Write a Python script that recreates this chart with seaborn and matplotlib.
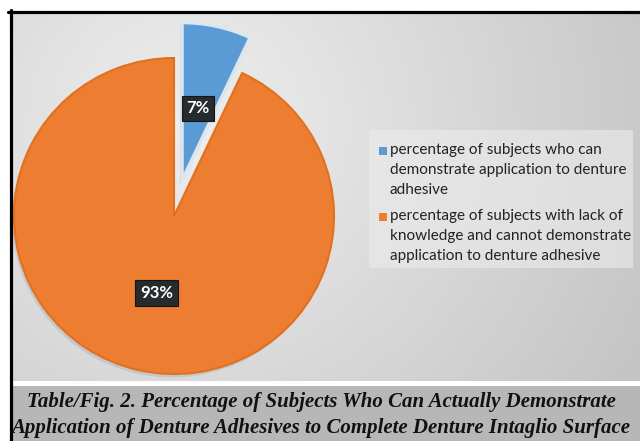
import numpy as np
import matplotlib
matplotlib.use("Agg")
import matplotlib.pyplot as plt
import seaborn as sns
from matplotlib.lines import Line2D
from matplotlib.patches import Rectangle
import matplotlib.patheffects as pe

# ---- data ----
categories = [
    "percentage of subjects who can\ndemonstrate application to denture\nadhesive",
    "percentage of subjects with lack of\nknowledge and cannot demonstrate\napplication to denture adhesive",
]
values = [7, 93]
explode = [0.23, 0.0]
caption_lines = [
    "Table/Fig. 2. Percentage of Subjects Who Can Actually Demonstrate",
    "Application of Denture Adhesives to Complete Denture Intaglio Surface",
]

sns.set_theme(style="white")
palette = sns.color_palette(["#5B9BD5", "#ED7D31"])

W, H = 640, 441
fig = plt.figure(figsize=(W / 100, H / 100), dpi=100)
fig.patch.set_facecolor("white")

def fx(px):
    return px / W

def fy(py):
    return 1 - py / H

# ---- gradient background of chart area ----
bg = fig.add_axes([fx(12), fy(381), fx(640) - fx(12), fy(13) - fy(381)])
bg.set_axis_off()
xx, yy = np.meshgrid(np.linspace(0, 1, 300), np.linspace(0, 1, 200))
d = np.sqrt(((xx - 0.28) * 1.0) ** 2 + ((yy - 0.3) * 0.6) ** 2)
v = 0.935 - 0.20 * d
v = np.clip(v, 0.77, 0.94)
img = np.dstack([v, v, v])
bg.imshow(img, aspect="auto", extent=[0, 1, 1, 0], interpolation="bilinear")
bg.set_xlim(0, 1)
bg.set_ylim(1, 0)

# ---- caption band ----
cap = fig.add_axes([fx(12), 0, 1 - fx(12), fy(386)])
cap.set_axis_off()
cap.add_patch(Rectangle((0, 0), 1, 1, transform=cap.transAxes, color="#b7b7b7"))
cap.set_xlim(0, 1)
cap.set_ylim(0, 1)
for i, line in enumerate(caption_lines):
    fig.text(fx(321), fy(402 + 26 * i), line, ha="center", va="center",
             family="Liberation Serif", weight="bold", style="italic",
             fontsize=15.0, color="#111111")

# ---- frame lines ----
fig.add_artist(Line2D([fx(8), 1], [fy(11.5), fy(11.5)], transform=fig.transFigure,
                      color="black", lw=2.3))
fig.add_artist(Line2D([fx(10.5), fx(10.5)], [0, fy(10)], transform=fig.transFigure,
                      color="black", lw=2.3))

# ---- pie ----
ax = fig.add_axes([0, 0, 1, 1])
ax.set_facecolor("none")
cx, cy = 174, 216
rx, ry = 160, 158
wedges, texts, autotexts = ax.pie(
    values, explode=explode, colors=palette, startangle=90, counterclock=False,
    autopct=lambda p: f"{p:.0f}%", pctdistance=0.5, radius=1,
    wedgeprops=dict(linewidth=2.0), textprops=dict(color="white"))
wedges[0].set_edgecolor("#dde6ee")
wedges[0].set_linewidth(2.5)
wedges[1].set_edgecolor("#e2701c")
wedges[1].set_linewidth(1.5)
for w in wedges:
    w.set_path_effects([pe.SimplePatchShadow(offset=(-1.5, -2.5), shadow_rgbFace="#9aa6b2", alpha=0.35),
                        pe.Normal()])
ax.set_aspect("auto")
ax.set_xlim(-cx / rx, (W - cx) / rx)
ax.set_ylim(-(H - cy) / ry, cy / ry)
ax.set_axis_off()
for t in autotexts:
    t.set_family(["Lato", "DejaVu Sans"])
    t.set_weight("bold")
    t.set_fontsize(12)
    t.set_bbox(dict(boxstyle="square,pad=0.28", facecolor="#262b2e", edgecolor="#151515", lw=0.8))
px0, py0 = autotexts[0].get_position()
autotexts[0].set_position((px0 - 0.01, py0 - 0.03))

# ---- legend (box, square markers, multi-line labels) ----
fig.add_artist(Rectangle((fx(369), fy(268)), fx(633) - fx(369), fy(130) - fy(268),
                         transform=fig.transFigure, facecolor="#ececec", alpha=0.6,
                         edgecolor="none"))
legend_tops = [143, 209]
for i, (lab, w) in enumerate(zip(categories, wedges)):
    top = legend_tops[i]
    fig.add_artist(Rectangle((fx(379), fy(top + 12)), fx(8), 8 / H,
                             transform=fig.transFigure, facecolor=w.get_facecolor(),
                             edgecolor="none"))
    fig.text(fx(390), fy(top), lab, ha="left", va="top", fontsize=11,
             family=["Lato", "DejaVu Sans"], color="#222222", linespacing=1.56)

fig.savefig("out.png", dpi=100)
